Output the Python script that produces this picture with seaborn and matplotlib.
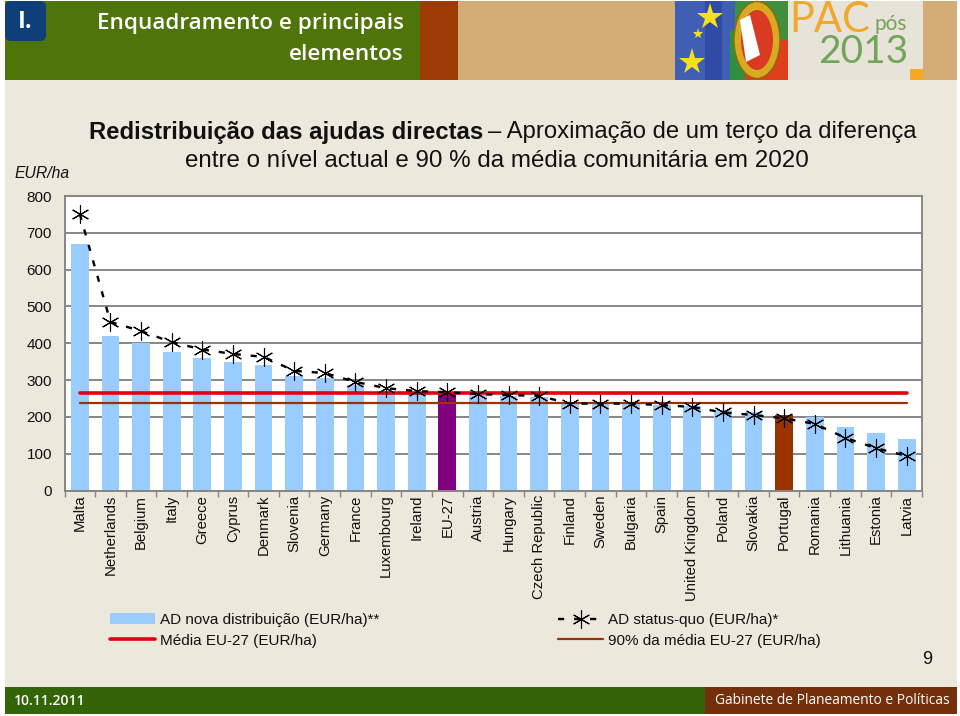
import matplotlib
matplotlib.use('Agg')
import matplotlib.pyplot as plt
from matplotlib.lines import Line2D
from matplotlib.patches import Ellipse, FancyBboxPatch, Polygon, Rectangle
import pandas as pd
import seaborn as sns

# Data
countries = ['Malta', 'Netherlands', 'Belgium', 'Italy', 'Greece', 'Cyprus', 'Denmark',
             'Slovenia', 'Germany', 'France', 'Luxembourg', 'Ireland', 'EU-27', 'Austria',
             'Hungary', 'Czech Republic', 'Finland', 'Sweden', 'Bulgaria', 'Spain',
             'United Kingdom', 'Poland', 'Slovakia', 'Portugal', 'Romania', 'Lithuania',
             'Estonia', 'Latvia']
nova = [670, 420, 400, 377, 360, 349, 341, 311, 306, 287, 270, 265, 267, 260,
        257, 255, 237, 237, 237, 232, 229, 219, 214, 205, 200, 173, 157, 140]
status_quo = [751, 458, 433, 403, 383, 371, 363, 325, 319, 295, 278, 270, 267, 262,
              259, 257, 236, 236, 236, 232, 227, 212, 205, 196, 181, 143, 115, 94]
media = [265] * 28
media_90 = [238] * 28
y_ticks = [0, 100, 200, 300, 400, 500, 600, 700, 800]

BG = '#ECE8DC'
GREEN = '#4F7409'
DARK_GREEN = '#336508'
RUST = '#9E3A03'
BROWN = '#73300B'
TAN = '#D3AC76'
BAR = '#99CCFF'
GRID = '#868686'
DASH = (0, (2.6, 4.2))

df = pd.DataFrame({'country': countries, 'nova': nova, 'status_quo': status_quo,
                   'media': media, 'media_90': media_90})
bar_colors = {c: BAR for c in countries}
bar_colors['EU-27'] = '#800080'
bar_colors['Portugal'] = '#993300'

sns.set_theme(style='white')
plt.rcParams['font.family'] = ['Liberation Sans', 'DejaVu Sans']

fig = plt.figure(figsize=(9.6, 7.16), dpi=100, facecolor='white')

# Slide background, pixel coordinates
bg = fig.add_axes([0, 0, 1, 1], zorder=0)
bg.set_xlim(0, 960)
bg.set_ylim(716, 0)
bg.axis('off')


def rect(x0, y0, x1, y1, color):
    bg.add_patch(Rectangle((x0, y0), x1 - x0, y1 - y0, color=color, lw=0))


rect(5, 1, 957, 714, BG)
rect(5, 1, 420, 80, GREEN)
rect(420, 1, 458, 80, RUST)
rect(458, 1, 957, 80, TAN)
bg.add_patch(FancyBboxPatch((9, 5), 33, 32, boxstyle='round,pad=4,rounding_size=6',
                            facecolor='#0F3F78', lw=0))
bg.text(25, 22, 'I.', color='white', fontsize=17, family='Open Sans', weight='bold',
        ha='center', va='center')
bg.text(404, 23, 'Enquadramento e principais', color='white', fontsize=16.2, family='Open Sans',
        weight='semibold', ha='right', va='center')
bg.text(404, 55, 'elementos', color='white', fontsize=16.2, family='Open Sans',
        weight='semibold', ha='right', va='center')

# Flag and logo
rect(675, 1, 735, 80, '#3E5FB4')
rect(705, 1, 722, 80, '#2F4BA6')
rect(735, 1, 788, 40, '#3F8F3C')
rect(735, 40, 788, 80, '#DE3F1C')
rect(730, 30, 745, 80, '#2F8F3C')
bg.add_patch(Ellipse((757, 40), 46, 77, facecolor='#D9A921', edgecolor='#8C6A10', lw=1))
bg.add_patch(Ellipse((757, 40), 32, 60, facecolor='#D83A22', lw=0))
bg.add_patch(Polygon([[740, 20], [750, 15], [760, 55], [746, 62]], facecolor='white', lw=0))
for sx, sy, sz in [(710, 17, 20), (692, 62, 20), (698, 34, 8)]:
    bg.plot([sx], [sy], marker='*', ms=sz, color='#F5E020', mew=0)
rect(788, 1, 923, 80, '#E8E3D8')
rect(910, 69, 923, 80, '#F7A823')
bg.text(789, 20, 'PAC', color='#F0A92E', fontsize=30, family='Lato', ha='left', va='center')
bg.text(891, 24, 'pós', color='#72A45A', fontsize=15, family='Lato', ha='center', va='center')
bg.text(908, 52, '2013', color='#72A45A', fontsize=28, family='Lato', ha='right', va='center')

# Footer
rect(5, 687, 705, 714, DARK_GREEN)
rect(705, 687, 957, 714, BROWN)
bg.text(14, 701, '10.11.2011', color='white', fontsize=10, family='Open Sans', weight='semibold',
        ha='left', va='center')
bg.text(715, 701, 'Gabinete de Planeamento e Políticas', color='white', fontsize=9.9,
        family='Open Sans', ha='left', va='center')
bg.text(927, 659, '9', color='#111111', fontsize=13, ha='center', va='center')

# Headings
bg.text(89, 132, 'Redistribuição das ajudas directas', fontsize=17.2, weight='bold',
        color='#111111', ha='left', va='center')
bg.text(916, 132, '– Aproximação de um terço da diferença', fontsize=17.2, color='#111111',
        ha='right', va='center')
bg.text(497, 161, 'entre o nível actual e 90 % da média comunitária em 2020', fontsize=17.4,
        color='#111111', ha='center', va='center')
bg.text(15, 173, 'EUR/ha', fontsize=11.3, style='italic', color='#111111', ha='left', va='center')

# Chart
ax = fig.add_axes([64.5 / 960, 1 - 490.5 / 716, (922 - 64.5) / 960, (490.5 - 196) / 716], zorder=1)
ax.set_facecolor('white')
sns.barplot(data=df, x='country', y='nova', hue='country', palette=bar_colors, legend=False,
            width=0.58, saturation=1, linewidth=0, ax=ax, zorder=2)
sns.lineplot(data=df, x='country', y='media', color='#E3000F', lw=2.6, ax=ax, zorder=3)
sns.lineplot(data=df, x='country', y='media_90', color='#993300', lw=1.6, ax=ax, zorder=3)
sns.lineplot(data=df, x='country', y='status_quo', color='black', lw=1.7, ls=DASH,
             marker=(6, 2, 0), ms=13, mec='black', mew=0.8, ax=ax, zorder=4)

ax.set_xlim(-0.5, 27.5)
ax.set_ylim(0, 800)
ax.set_yticks(y_ticks)
ax.set_xlabel('')
ax.set_ylabel('')
ax.grid(axis='y', color=GRID, lw=1.4, zorder=1)
ax.set_axisbelow(True)
ax.set_xticks([i + 0.5 for i in range(-1, 28)], minor=True)
ax.tick_params(axis='x', which='minor', length=4, width=1, color=GRID, bottom=True)
ax.tick_params(axis='x', which='major', length=0, pad=3, labelsize=10.7, labelrotation=90,
               labelcolor='#111111')
ax.tick_params(axis='y', length=0, pad=9, labelsize=11, labelcolor='#111111')
for label in ax.get_xticklabels():
    label.set_va('top')
for spine in ax.spines.values():
    spine.set_color(GRID)
    spine.set_linewidth(1.4)

# Legend
handles = [
    Rectangle((0, 0), 1, 1, facecolor=BAR, lw=0),
    Line2D([], [], color='#E3000F', lw=2.6),
    Line2D([], [], color='black', lw=1.7, ls=DASH, marker=(6, 2, 0), ms=13, mew=0.8),
    Line2D([], [], color='#993300', lw=1.6),
]
labels = ['AD nova distribuição (EUR/ha)**', 'Média EU-27 (EUR/ha)',
          'AD status-quo (EUR/ha)*', '90% da média EU-27 (EUR/ha)']
fig.legend(handles, labels, ncols=2, frameon=False, fontsize=11, labelcolor='#111111',
           loc='upper left', bbox_to_anchor=(110 / 960, 1 - 613 / 716), borderaxespad=0,
           borderpad=0, handlelength=2.95, handleheight=0.75, handletextpad=0.33,
           columnspacing=11.7, labelspacing=0.45)

fig.savefig('out.png', dpi=100)
